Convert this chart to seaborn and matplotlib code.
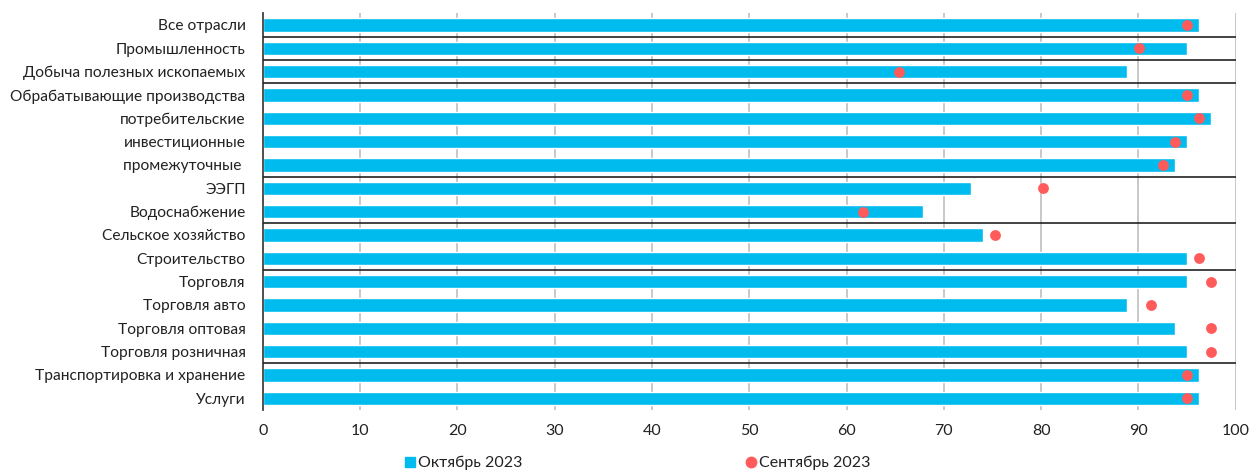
import matplotlib

matplotlib.use("Agg")

import matplotlib.pyplot as plt
import numpy as np
import pandas as pd
import seaborn as sns

categories = [
    "Все отрасли",
    "Промышленность",
    "Добыча полезных ископаемых",
    "Обрабатывающие производства",
    "потребительские",
    "инвестиционные",
    "промежуточные ",
    "ЭЭГП",
    "Водоснабжение",
    "Сельское хозяйство",
    "Строительство",
    "Торговля",
    "Торговля авто",
    "Торговля оптовая",
    "Торговля розничная",
    "Транспортировка и хранение",
    "Услуги",
]
october_2023 = [96.2, 95.0, 88.8, 96.2, 97.5, 95.0, 93.8, 72.8, 67.9, 74.0,
                95.0, 95.0, 88.8, 93.8, 95.0, 96.2, 96.2]
september_2023 = [95.0, 90.1, 65.4, 95.0, 96.2, 93.8, 92.5, 80.2, 61.7, 75.3,
                  96.2, 97.5, 91.3, 97.5, 97.5, 95.0, 95.0]
# separator lines go below these rows
group_ends = [0, 1, 2, 6, 8, 10, 14]

BAR_COLOR = "#00BBEE"
DOT_COLOR = "#FF5B5B"

sns.set_theme(style="white")
plt.rcParams["font.family"] = ["Lato", "DejaVu Sans"]

df = pd.DataFrame({
    "category": categories,
    "oct": october_2023,
    "sep": september_2023,
})

fig, ax = plt.subplots(figsize=(12.52, 4.75), dpi=100)
fig.subplots_adjust(left=0.21, right=0.987, top=0.972, bottom=0.137)

sns.barplot(data=df, y="category", x="oct", orient="h", color=BAR_COLOR,
            saturation=1, width=0.57, ax=ax, zorder=2)
sns.stripplot(data=df, y="category", x="sep", orient="h", jitter=False,
              color=DOT_COLOR, size=7.8, linewidth=0, ax=ax, zorder=3)

ax.set_xlim(0, 100)
ax.set_ylim(len(categories) - 0.5, -0.5)
ax.set_xticks(np.arange(0, 101, 10))
ax.xaxis.grid(True, color="#C4C4C4", linewidth=1.3, zorder=0)
ax.set_axisbelow(True)
ax.set_xlabel("")
ax.set_ylabel("")

for i in group_ends:
    ax.axhline(i + 0.5, color="#222222", linewidth=1.2, zorder=4)

for side in ["top", "right", "bottom"]:
    ax.spines[side].set_visible(False)
ax.spines["left"].set_color("#444444")
ax.spines["left"].set_linewidth(1.3)

ax.set_yticks(np.arange(-0.5, len(categories), 1), minor=True)
ax.tick_params(axis="y", which="major", length=0, pad=12.5, labelsize=11.2,
               labelcolor="#222222")
ax.tick_params(axis="y", which="minor", length=5, width=1.2, color="#444444",
               direction="out")
ax.tick_params(axis="x", length=0, pad=10, labelsize=11.5, labelcolor="#222222")

handles = [
    plt.Line2D([], [], marker="s", linestyle="", color=BAR_COLOR, markersize=7),
    plt.Line2D([], [], marker="o", linestyle="", color=DOT_COLOR, markersize=7.5),
]
fig.legend(handles, ["Октябрь 2023", "Сентябрь 2023"], loc="lower center",
           bbox_to_anchor=(0.508, -0.02), ncol=2, frameon=False, fontsize=11.5,
           handletextpad=0.0, columnspacing=13.8, handlelength=1.0,
           labelcolor="#222222")

fig.savefig("out.png", dpi=100)
